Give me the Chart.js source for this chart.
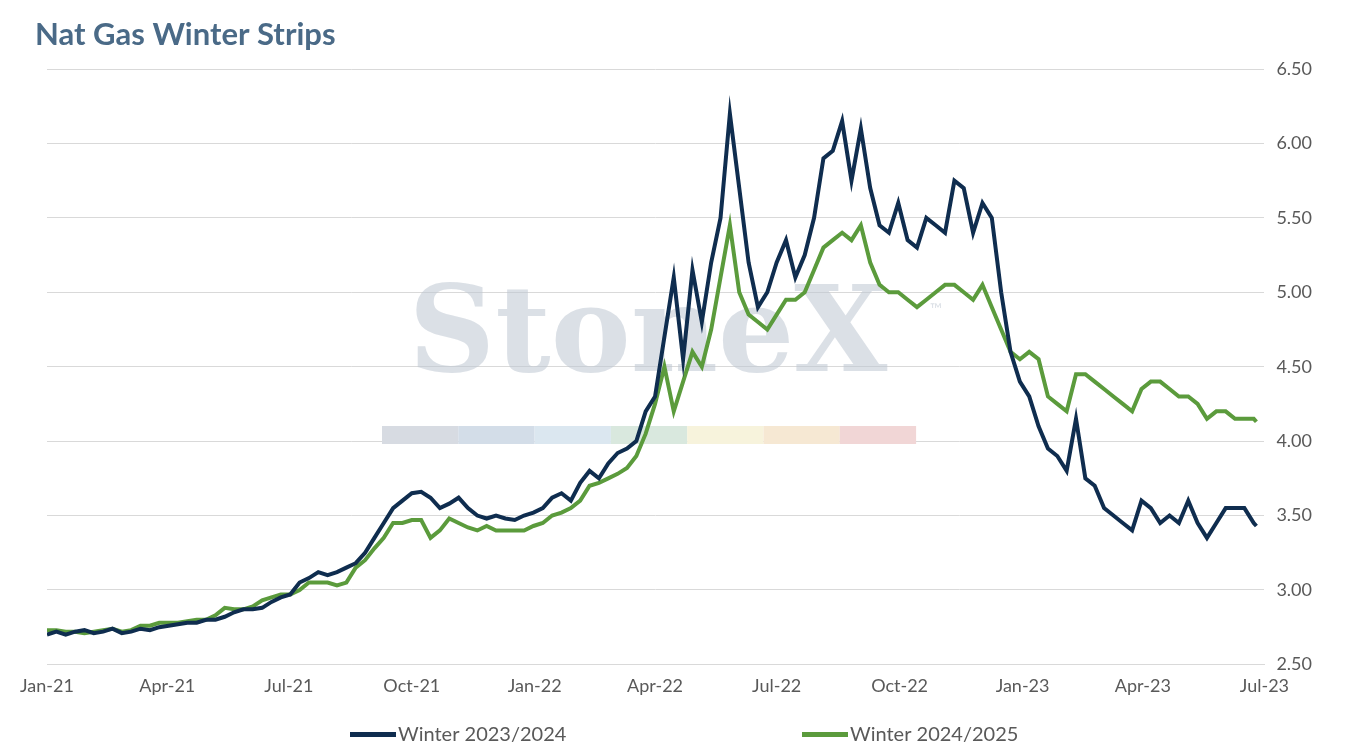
<!DOCTYPE html>
<html><head><meta charset="utf-8">
<script src="https://cdn.jsdelivr.net/npm/chart.js@4/dist/chart.umd.min.js"></script>
<style>html,body{margin:0;background:#fff}#w{width:1359px;height:755px}</style>
</head><body><div id="w"><canvas id="c"></canvas></div>
<script>
const tickDays=[0,90,181,273,365,455,546,638,730,820,911];
const tickLabels=["Jan-21","Apr-21","Jul-21","Oct-21","Jan-22","Apr-22","Jul-22","Oct-22","Jan-23","Apr-23","Jul-23"];
const winter2324=[2.70,2.72,2.70,2.72,2.73,2.71,2.72,2.74,2.71,2.72,2.74,2.73,2.75,
2.76,2.77,2.78,2.78,2.80,2.80,2.82,2.85,2.87,2.87,2.88,2.92,2.95,
2.97,3.05,3.08,3.12,3.10,3.12,3.15,3.18,3.25,3.35,3.45,3.55,3.60,
3.65,3.66,3.62,3.55,3.58,3.62,3.55,3.50,3.48,3.50,3.48,3.47,3.50,
3.52,3.55,3.62,3.65,3.60,3.72,3.80,3.75,3.85,3.92,3.95,4.00,4.20,
4.30,4.70,5.10,4.55,5.15,4.80,5.20,5.50,6.20,5.70,5.20,4.90,5.00,
5.20,5.35,5.10,5.25,5.50,5.90,5.95,6.15,5.75,6.10,5.70,5.45,5.40,
5.60,5.35,5.30,5.50,5.45,5.40,5.75,5.70,5.40,5.60,5.50,5.00,4.60,
4.40,4.30,4.10,3.95,3.90,3.80,4.15,3.75,3.70,3.55,3.50,3.45,3.40,
3.60,3.55,3.45,3.50,3.45,3.60,3.45,3.35,3.45,3.55,3.55,3.55,3.45,3.43];
const winter2425=[2.73,2.73,2.72,2.72,2.71,2.72,2.73,2.74,2.72,2.73,2.76,2.76,2.78,
2.78,2.78,2.79,2.80,2.80,2.83,2.88,2.87,2.87,2.89,2.93,2.95,2.97,
2.97,3.00,3.05,3.05,3.05,3.03,3.05,3.15,3.20,3.28,3.35,3.45,3.45,
3.47,3.47,3.35,3.40,3.48,3.45,3.42,3.40,3.43,3.40,3.40,3.40,3.40,
3.43,3.45,3.50,3.52,3.55,3.60,3.70,3.72,3.75,3.78,3.82,3.90,4.05,
4.25,4.50,4.20,4.40,4.60,4.50,4.75,5.10,5.45,5.00,4.85,4.80,4.75,
4.85,4.95,4.95,5.00,5.15,5.30,5.35,5.40,5.35,5.45,5.20,5.05,5.00,
5.00,4.95,4.90,4.95,5.00,5.05,5.05,5.00,4.95,5.05,4.90,4.75,4.60,
4.55,4.60,4.55,4.30,4.25,4.20,4.45,4.45,4.40,4.35,4.30,4.25,4.20,
4.35,4.40,4.40,4.35,4.30,4.30,4.25,4.15,4.20,4.20,4.15,4.15,4.15,4.13];
const pts=a=>a.map((v,i)=>({x:Math.min(i*7,905),y:v}));
const wm={id:'wm',beforeDatasetsDraw(ch){const c=ch.ctx;c.save();
c.font='bold 120px "DejaVu Serif", serif';c.fillStyle='rgba(190,198,210,0.55)';c.textAlign='center';c.textBaseline='middle';
c.fillText('StoneX',648,340);c.font='16px Lato';c.fillText('™',936,310);
const cols=['#d7dbe2','#d3dde8','#dbe7f0','#d9e8de','#f7f3dc','#f6e8d3','#f1d6d6'];
cols.forEach((cl,i)=>{c.fillStyle=cl;c.fillRect(382+i*76.3,426,76.3,18);});c.restore();},
afterDraw(ch){const c=ch.ctx;c.save();
c.font='bold 31px Lato';c.fillStyle='#4a6a87';c.textBaseline='middle';c.fillText('Nat Gas Winter Strips',35,35);
c.font='20px Lato';const xs=[350,802];
ch.data.datasets.forEach((d,i)=>{c.fillStyle=d.borderColor;c.fillRect(xs[i],732,46,5);c.fillStyle='#595959';c.fillText(d.label,xs[i]+48,735);});
c.restore();}};
new Chart(document.getElementById('c'),{type:'line',
data:{datasets:[
{label:'Winter 2023/2024',data:pts(winter2324),borderColor:'#0f2d4f',backgroundColor:'#0f2d4f',borderWidth:4,pointRadius:0,tension:0},
{label:'Winter 2024/2025',data:pts(winter2425),borderColor:'#5b9b3c',backgroundColor:'#5b9b3c',borderWidth:4,pointRadius:0,tension:0}]},
options:{responsive:true,maintainAspectRatio:false,animation:false,
layout:{padding:{left:47,right:35,top:69,bottom:55}},
plugins:{title:{display:false},legend:{display:false},tooltip:{enabled:false}},
scales:{x:{type:'linear',min:0,max:911,afterBuildTicks:s=>{s.ticks=tickDays.map(v=>({value:v}));},
ticks:{callback:v=>tickLabels[tickDays.indexOf(v)],color:'#595959',font:{family:'Lato',size:18},maxRotation:0,autoSkip:false},
grid:{display:false},border:{color:'#d9d9d9'}},
y:{position:'right',min:2.5,max:6.5,ticks:{stepSize:0.5,callback:v=>v.toFixed(2),color:'#595959',font:{family:'Lato',size:18},padding:12},
grid:{color:'#d9d9d9',drawTicks:false},border:{display:false}}}},
plugins:[wm]});
</script></body></html>
